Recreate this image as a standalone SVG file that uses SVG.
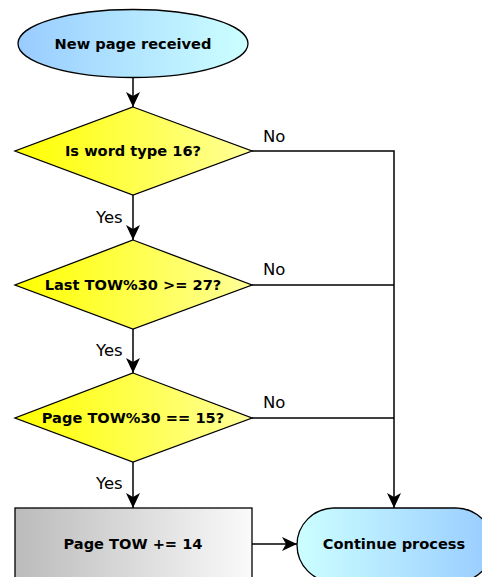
<svg xmlns="http://www.w3.org/2000/svg" width="482" height="577" viewBox="0 0 482 577">
<defs>
<linearGradient id="gBlue" x1="0" y1="0" x2="1" y2="0"><stop offset="0" stop-color="#99ccff"/><stop offset="1" stop-color="#ccffff"/></linearGradient>
<linearGradient id="gBlue2" x1="0" y1="0" x2="1" y2="0"><stop offset="0" stop-color="#ccffff"/><stop offset="1" stop-color="#99ccff"/></linearGradient>
<linearGradient id="gYellow" x1="0" y1="0" x2="1" y2="0"><stop offset="0" stop-color="#ffff00"/><stop offset="1" stop-color="#ffff99"/></linearGradient>
<linearGradient id="gGrey" x1="0" y1="0" x2="1" y2="0"><stop offset="0" stop-color="#bbbbbb"/><stop offset="1" stop-color="#fafafa"/></linearGradient>
<marker id="arr" markerUnits="userSpaceOnUse" markerWidth="18" markerHeight="16" viewBox="-17 -8 18 16" refX="0" refY="0" orient="auto">
<path d="M0,0 L-15,-7 L-11,0 L-15,7 Z" fill="#000"/>
</marker>
<style>
.shape{stroke:#000;stroke-width:1.3}
.t{font-family:"DejaVu Sans","Liberation Sans",sans-serif;font-weight:bold;font-size:14.6px;fill:#000;text-anchor:middle}
.lbl{font-family:"DejaVu Sans","Liberation Sans",sans-serif;font-size:16.5px;fill:#000}
.c{fill:none;stroke:#000;stroke-width:1.5}
</style>
</defs>
<g id="connectors">
<path class="c" d="M133,77 V107" marker-end="url(#arr)"/>
<path class="c" d="M133,195 V240" marker-end="url(#arr)"/>
<path class="c" d="M133,329 V373" marker-end="url(#arr)"/>
<path class="c" d="M133,462 V508" marker-end="url(#arr)"/>
<path class="c" d="M252,151 H394 V508" marker-end="url(#arr)"/>
<path class="c" d="M252,285 H394"/>
<path class="c" d="M252,418 H394"/>
<path class="c" d="M252,544 H297" marker-end="url(#arr)"/>
<text class="lbl" x="263" y="142">No</text>
<text class="lbl" x="96" y="223">Yes</text>
<text class="lbl" x="263" y="275">No</text>
<text class="lbl" x="96" y="356">Yes</text>
<text class="lbl" x="263" y="408">No</text>
<text class="lbl" x="96" y="489">Yes</text>
</g>
<g id="start">
<ellipse class="shape" cx="133" cy="43.5" rx="115" ry="34" fill="url(#gBlue)"/>
<text class="t" x="133" y="48.5">New page received</text>
</g>
<g id="dec1">
<polygon class="shape" points="133,107 252,151 133,195 15,151" fill="url(#gYellow)"/>
<text class="t" x="133" y="156">Is word type 16?</text>
</g>
<g id="dec2">
<polygon class="shape" points="133,240 252,285 133,329 15,285" fill="url(#gYellow)"/>
<text class="t" x="133" y="290">Last TOW%30 &gt;= 27?</text>
</g>
<g id="dec3">
<polygon class="shape" points="133,373 252,418 133,462 15,418" fill="url(#gYellow)"/>
<text class="t" x="133" y="423">Page TOW%30 == 15?</text>
</g>
<g id="proc">
<rect class="shape" x="15" y="508" width="237" height="74" fill="url(#gGrey)"/>
<text class="t" x="133" y="549">Page TOW += 14</text>
</g>
<g id="end">
<rect class="shape" x="297" y="508" width="196" height="74" rx="37" ry="37" fill="url(#gBlue2)"/>
<text class="t" x="394" y="549">Continue process</text>
</g>
</svg>
